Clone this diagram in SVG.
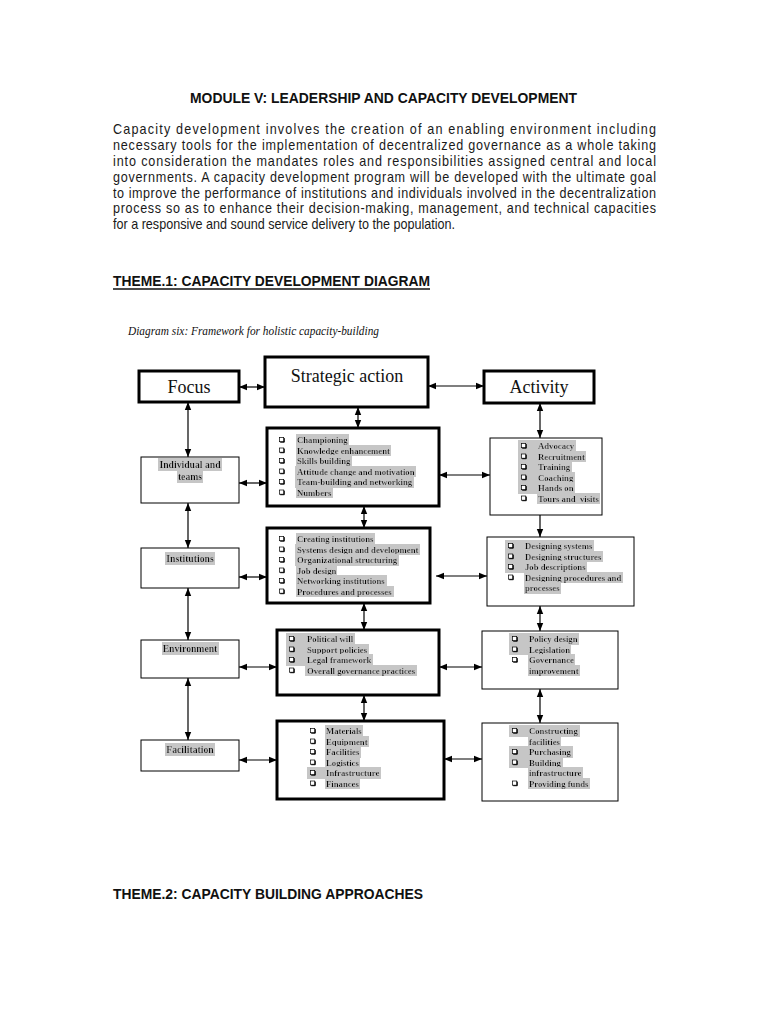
<svg xmlns="http://www.w3.org/2000/svg" xmlns:xlink="http://www.w3.org/1999/xlink" width="768" height="1024" viewBox="0 0 768 1024">
<style>
.h{font-family:"Liberation Sans",Arial,sans-serif;font-weight:bold;font-size:14.5px;fill:#111}
.p{font-family:"Liberation Sans",Arial,sans-serif;font-size:14px;fill:#1a1a1a}
.cap{font-family:"Liberation Serif","Times New Roman",serif;font-style:italic;font-size:12.5px;fill:#111}
.hd{font-family:"Liberation Serif","Times New Roman",serif;font-size:18px;text-anchor:middle;fill:#111}
.t{font-family:"Liberation Serif","Times New Roman",serif;font-weight:bold;font-size:8.7px;fill:#111}
.lb{font-family:"Liberation Serif","Times New Roman",serif;font-weight:bold;font-size:9.7px;text-anchor:middle;fill:#111}
.hl{filter:url(#hl)}
.thick{fill:#fff;stroke:#000;stroke-width:3}
.thin{fill:#fff;stroke:#000;stroke-width:1}
.c{stroke:#000;stroke-width:1.2;fill:none;marker-start:url(#ah);marker-end:url(#ah)}
</style>
<defs>
<marker id="ah" viewBox="0 0 10 10" refX="10" refY="5" markerWidth="8" markerHeight="8" markerUnits="userSpaceOnUse" orient="auto-start-reverse"><path d="M0,1 L10,5 L0,9 z" fill="#000"/></marker>
<filter id="hl" x="-0.01" y="-0.03" width="1.02" height="1.08"><feFlood flood-color="#c6c6c6"/><feComposite in="SourceGraphic" operator="over"/></filter>
<g id="bul"><rect x="0.5" y="-5.5" width="4.2" height="4.2" fill="#fff" stroke="#000" stroke-width="0.7"/><path d="M1.2,-0.8 H5.3 V-4.9" fill="none" stroke="#000" stroke-width="1"/></g>
</defs>
<rect width="768" height="1024" fill="#fff"/>

<g id="header">
<text class="h" x="383.5" y="103" text-anchor="middle" textLength="387" lengthAdjust="spacingAndGlyphs">MODULE V: LEADERSHIP AND CAPACITY DEVELOPMENT</text>
<g transform="translate(113,0) scale(0.9,1)">
<text class="p" x="0" y="134.5" textLength="603.3" lengthAdjust="spacing">Capacity development involves the creation of an enabling environment including</text>
<text class="p" x="0" y="150.3" textLength="603.3" lengthAdjust="spacing">necessary tools for the implementation of decentralized governance as a whole taking</text>
<text class="p" x="0" y="166.1" textLength="603.3" lengthAdjust="spacing">into consideration the mandates roles and responsibilities assigned central and local</text>
<text class="p" x="0" y="181.9" textLength="603.3" lengthAdjust="spacing">governments. A capacity development program will be developed with the ultimate goal</text>
<text class="p" x="0" y="197.7" textLength="603.3" lengthAdjust="spacing">to improve the performance of institutions and individuals involved in the decentralization</text>
<text class="p" x="0" y="213.5" textLength="603.3" lengthAdjust="spacing">process so as to enhance their decision-making, management, and technical capacities</text>
<text class="p" x="0" y="229.3">for a responsive and sound service delivery to the population.</text>
</g>
<text class="h" x="113" y="286" textLength="317" lengthAdjust="spacingAndGlyphs">THEME.1: CAPACITY DEVELOPMENT DIAGRAM</text>
<line x1="113" y1="289" x2="430" y2="289" stroke="#111" stroke-width="1.4"/>
<text class="cap" x="128" y="335" textLength="251" lengthAdjust="spacingAndGlyphs">Diagram six: Framework for holistic capacity-building</text>
<text class="h" x="113" y="899" textLength="310" lengthAdjust="spacingAndGlyphs">THEME.2: CAPACITY BUILDING APPROACHES</text>
</g>

<g id="connectors">
<line class="c" x1="239" y1="387" x2="265" y2="387"/>
<line class="c" x1="428" y1="386" x2="484" y2="386"/>
<line class="c" x1="188" y1="402" x2="188" y2="457"/>
<line class="c" x1="188" y1="503" x2="188" y2="548"/>
<line class="c" x1="188" y1="588" x2="188" y2="640"/>
<line class="c" x1="188" y1="678" x2="188" y2="740"/>
<line class="c" x1="358" y1="407" x2="358" y2="428"/>
<line class="c" x1="364" y1="506" x2="364" y2="528"/>
<line class="c" x1="364" y1="603" x2="364" y2="630"/>
<line class="c" x1="364" y1="695" x2="364" y2="721"/>
<line class="c" x1="540" y1="403" x2="540" y2="438"/>
<line class="c" x1="540" y1="537" x2="540" y2="503"/>
<line class="c" x1="540" y1="606" x2="540" y2="631"/>
<line class="c" x1="540" y1="689" x2="540" y2="723"/>
<line class="c" x1="239" y1="483" x2="267" y2="483"/>
<line class="c" x1="239" y1="577" x2="267" y2="577"/>
<line class="c" x1="239" y1="667" x2="277" y2="667"/>
<line class="c" x1="239" y1="760" x2="277" y2="760"/>
<line class="c" x1="439" y1="475" x2="490" y2="475"/>
<line class="c" x1="436" y1="576" x2="487" y2="576"/>
<line class="c" x1="439" y1="667" x2="482" y2="667"/>
<line class="c" x1="444" y1="759" x2="482" y2="759"/>
</g>

<g id="focus">
<rect class="thick" x="139" y="371" width="100" height="31"/>
<text class="hd" x="189" y="393">Focus</text>
</g>
<g id="strategic-action">
<rect class="thick" x="265" y="357" width="163" height="50"/>
<text class="hd" x="347" y="382">Strategic action</text>
</g>
<g id="activity">
<rect class="thick" x="484" y="371" width="110" height="32"/>
<text class="hd" x="539" y="393">Activity</text>
</g>

<g id="individual-teams">
<rect class="thin" x="141" y="457" width="98" height="46"/>
<text class="lb hl" x="190" y="468">Individual and</text>
<text class="lb hl" x="190" y="479.5">teams</text>
</g>
<g id="institutions">
<rect class="thin" x="141" y="548" width="98" height="40"/>
<text class="lb hl" x="190" y="562">Institutions</text>
</g>
<g id="environment">
<rect class="thin" x="141" y="640" width="98" height="38"/>
<text class="lb hl" x="190" y="652">Environment</text>
</g>
<g id="facilitation">
<rect class="thin" x="141" y="740" width="98" height="31"/>
<text class="lb hl" x="190" y="753">Facilitation</text>
</g>

<g id="action-individual">
<rect class="thick" x="267" y="428" width="172" height="78"/>
<text class="t hl" x="297" y="443">Championing</text>
<text class="t hl" x="297" y="453.5">Knowledge enhancement</text>
<text class="t hl" x="297" y="464">Skills building</text>
<text class="t hl" x="297" y="474.5">Attitude change and motivation</text>
<text class="t hl" x="297" y="485">Team-building and networking</text>
<text class="t hl" x="297" y="495.5">Numbers</text>
<use xlink:href="#bul" x="279" y="443"/><use xlink:href="#bul" x="279" y="453.5"/><use xlink:href="#bul" x="279" y="464"/><use xlink:href="#bul" x="279" y="474.5"/><use xlink:href="#bul" x="279" y="485"/><use xlink:href="#bul" x="279" y="495.5"/>
</g>
<g id="action-institutions">
<rect class="thick" x="267" y="528" width="163" height="75"/>
<text class="t hl" x="297" y="542">Creating institutions</text>
<text class="t hl" x="297" y="552.5">Systems design and development</text>
<text class="t hl" x="297" y="563">Organizational structuring</text>
<text class="t hl" x="297" y="573.5">Job design</text>
<text class="t hl" x="297" y="584">Networking institutions</text>
<text class="t hl" x="297" y="594.5">Procedures and processes</text>
<use xlink:href="#bul" x="279" y="542"/><use xlink:href="#bul" x="279" y="552.5"/><use xlink:href="#bul" x="279" y="563"/><use xlink:href="#bul" x="279" y="573.5"/><use xlink:href="#bul" x="279" y="584"/><use xlink:href="#bul" x="279" y="594.5"/>
</g>
<g id="action-environment">
<rect class="thick" x="277" y="630" width="162" height="65"/>
<text class="t hl" y="642"><tspan x="287">&#160;&#160;&#160;</tspan><tspan x="307">Political will</tspan></text>
<text class="t hl" y="652.5"><tspan x="287">&#160;&#160;&#160;</tspan><tspan x="307">Support policies</tspan></text>
<text class="t hl" y="663"><tspan x="287">&#160;&#160;&#160;</tspan><tspan x="307">Legal framework</tspan></text>
<text class="t hl" x="307" y="673.5">Overall governance practices</text>
<use xlink:href="#bul" x="289" y="642"/><use xlink:href="#bul" x="289" y="652.5"/><use xlink:href="#bul" x="289" y="663"/><use xlink:href="#bul" x="289" y="673.5"/>
</g>
<g id="action-facilitation">
<rect class="thick" x="277" y="721" width="167" height="78"/>
<text class="t hl" x="326" y="734">Materials</text>
<text class="t hl" x="326" y="744.5">Equipment</text>
<text class="t hl" x="326" y="755">Facilities</text>
<text class="t hl" x="326" y="765.5">Logistics</text>
<text class="t hl" y="776"><tspan x="308">&#160;&#160;&#160;</tspan><tspan x="326">Infrastructure</tspan></text>
<text class="t hl" x="326" y="786.5">Finances</text>
<use xlink:href="#bul" x="310" y="734"/><use xlink:href="#bul" x="310" y="744.5"/><use xlink:href="#bul" x="310" y="755"/><use xlink:href="#bul" x="310" y="765.5"/><use xlink:href="#bul" x="310" y="776"/><use xlink:href="#bul" x="310" y="786.5"/>
</g>

<g id="activity-individual">
<rect class="thin" x="490" y="438" width="112" height="77"/>
<text class="t hl" y="449"><tspan x="519">&#160;&#160;&#160;</tspan><tspan x="538">Advocacy</tspan></text>
<text class="t hl" y="459.5"><tspan x="519">&#160;&#160;&#160;</tspan><tspan x="538">Recruitment</tspan></text>
<text class="t hl" y="470"><tspan x="519">&#160;&#160;&#160;</tspan><tspan x="538">Training</tspan></text>
<text class="t hl" y="480.5"><tspan x="519">&#160;&#160;&#160;</tspan><tspan x="538">Coaching</tspan></text>
<text class="t hl" y="491"><tspan x="519">&#160;&#160;&#160;</tspan><tspan x="538">Hands on</tspan></text>
<text class="t hl" x="538" y="501.5" xml:space="preserve">Tours and  visits</text>
<use xlink:href="#bul" x="521" y="449"/><use xlink:href="#bul" x="521" y="459.5"/><use xlink:href="#bul" x="521" y="470"/><use xlink:href="#bul" x="521" y="480.5"/><use xlink:href="#bul" x="521" y="491"/><use xlink:href="#bul" x="521" y="501.5"/>
</g>
<g id="activity-institutions">
<rect class="thin" x="487" y="537" width="147" height="69"/>
<text class="t hl" y="549"><tspan x="506">&#160;&#160;&#160;</tspan><tspan x="525">Designing systems</tspan></text>
<text class="t hl" y="559.5"><tspan x="506">&#160;&#160;&#160;</tspan><tspan x="525">Designing structures</tspan></text>
<text class="t hl" y="570"><tspan x="506">&#160;&#160;&#160;</tspan><tspan x="525">Job descriptions</tspan></text>
<text class="t hl" x="525" y="580.5">Designing procedures and</text>
<text class="t hl" x="525" y="591">processes</text>
<use xlink:href="#bul" x="508" y="549"/><use xlink:href="#bul" x="508" y="559.5"/><use xlink:href="#bul" x="508" y="570"/><use xlink:href="#bul" x="508" y="580.5"/>
</g>
<g id="activity-environment">
<rect class="thin" x="482" y="631" width="136" height="58"/>
<text class="t hl" y="642"><tspan x="510">&#160;&#160;&#160;</tspan><tspan x="529">Policy design</tspan></text>
<text class="t hl" y="652.5"><tspan x="510">&#160;&#160;&#160;</tspan><tspan x="529">Legislation</tspan></text>
<text class="t hl" x="529" y="663">Governance</text>
<text class="t hl" x="529" y="673.5">improvement</text>
<use xlink:href="#bul" x="512" y="642"/><use xlink:href="#bul" x="512" y="652.5"/><use xlink:href="#bul" x="512" y="663"/>
</g>
<g id="activity-facilitation">
<rect class="thin" x="482" y="723" width="136" height="78"/>
<text class="t hl" y="734"><tspan x="510">&#160;&#160;&#160;</tspan><tspan x="529">Constructing</tspan></text>
<text class="t hl" x="529" y="744.5">facilities</text>
<text class="t hl" y="755"><tspan x="510">&#160;&#160;&#160;</tspan><tspan x="529">Purchasing</tspan></text>
<text class="t hl" y="765.5"><tspan x="510">&#160;&#160;&#160;</tspan><tspan x="529">Building</tspan></text>
<text class="t hl" x="529" y="776">infrastructure</text>
<text class="t hl" x="529" y="786.5">Providing funds</text>
<use xlink:href="#bul" x="512" y="734"/><use xlink:href="#bul" x="512" y="755"/><use xlink:href="#bul" x="512" y="765.5"/><use xlink:href="#bul" x="512" y="786.5"/>
</g>
</svg>
